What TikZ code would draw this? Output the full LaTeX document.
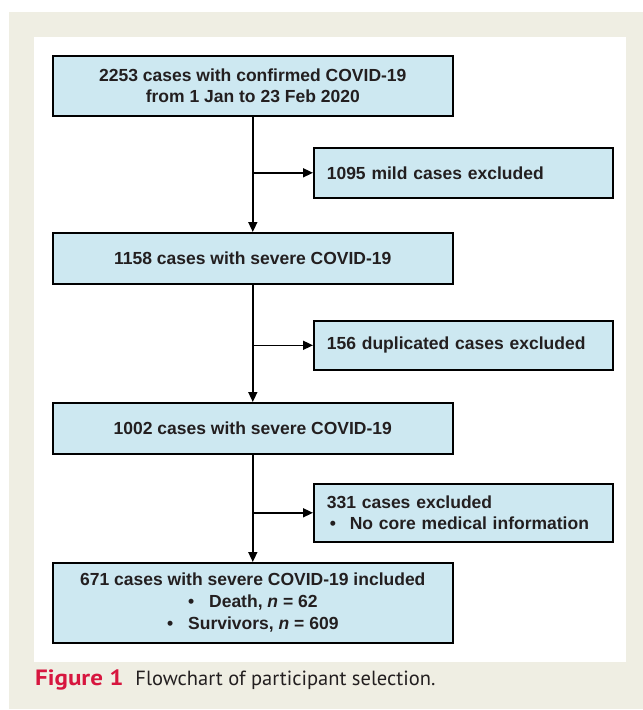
\documentclass[tikz,border=0pt]{standalone}
\usepackage{fontspec}
\setmainfont{Liberation Sans}
\newfontfamily\capfont{PT Sans}
\usetikzlibrary{arrows.meta}
\definecolor{boxblue}{HTML}{CDE8F1}
\definecolor{beigebg}{HTML}{EFEEE3}
\definecolor{figred}{HTML}{D7163F}
\definecolor{txtgray}{HTML}{231F20}
\begin{document}
\begin{tikzpicture}[x=1pt,y=-1pt,
  box/.style={draw=black, line width=1.6pt, fill=boxblue, anchor=north west,
    font=\fontsize{17.5}{21.5}\selectfont\bfseries, text=txtgray},
  cbox/.style={box, inner sep=0pt, minimum width=400pt, align=center},
  lbox/.style={box, inner xsep=13pt, inner ysep=0pt, text width=273pt, align=left},
  arr/.style={line width=1.6pt, -{Triangle[length=10pt,width=9pt]}}]
\useasboundingbox (0,0) rectangle (643,710);
\fill[beigebg] (9,12) rectangle (643,709);
\fill[white] (34,37) rectangle (626,662);

\node[cbox, minimum height=60pt] (b1) at (52,55)
  {2253 cases with confirmed COVID-19\\from 1 Jan to 23 Feb 2020};
\node[lbox, minimum height=50pt] (b2) at (313,147) {1095 mild cases excluded};
\node[cbox, minimum height=51pt] (b3) at (52,232) {1158 cases with severe COVID-19};
\node[lbox, minimum height=49pt] (b4) at (313,320) {156 duplicated cases excluded};
\node[cbox, minimum height=51pt] (b5) at (52,402) {1002 cases with severe COVID-19};
\node[lbox, minimum height=58pt] (b6) at (313,483)
  {331 cases excluded\\\hspace*{3pt}\makebox[20pt][l]{\textbullet}No core medical information};
\node[cbox, minimum height=80pt, font=\fontsize{17.5}{22}\selectfont\bfseries] (b7) at (52,562)
  {671 cases with severe COVID-19 included\\
   \textbullet\hspace{15pt}Death, \textit{n} = 62\\
   \textbullet\hspace{15pt}Survivors, \textit{n} = 609};

\draw[arr] (b1.south) -- (b3.north);
\draw[arr] (b1.south |- b2.west) -- (b2.west);
\draw[arr] (b3.south) -- (b5.north);
\draw[arr] (b3.south |- b4.west) -- (b4.west);
\draw[arr] (b5.south) -- (b7.north);
\draw[arr] (b5.south |- b6.west) -- (b6.west);

\node[anchor=base west, inner sep=0pt, text=txtgray] (cap) at (35,685)
  {\capfont\fontsize{20.5}{24}\selectfont{\color{figred}\bfseries\scalebox{1.22}[1.08]{Figure 1}}\hspace{12pt}Flowchart of participant selection.};
\end{tikzpicture}
\end{document}
